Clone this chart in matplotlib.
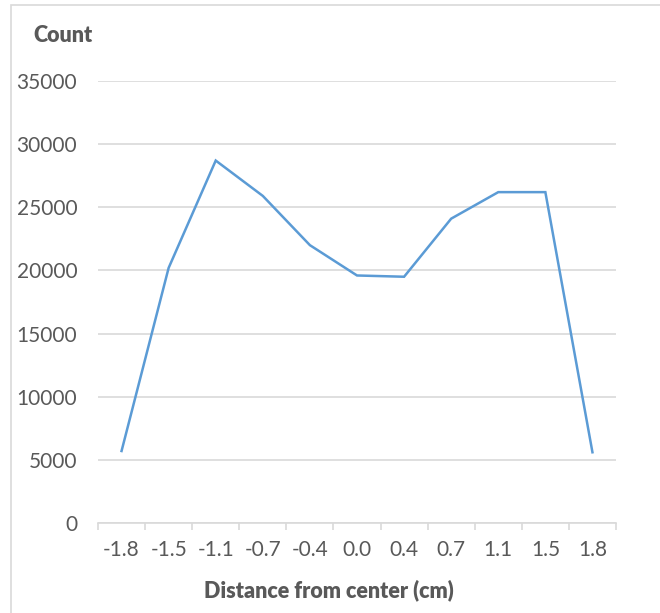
import matplotlib
matplotlib.use("Agg")
import matplotlib.pyplot as plt
from matplotlib.patches import Rectangle

# data
categories = ["-1.8", "-1.5", "-1.1", "-0.7", "-0.4", "0.0", "0.4", "0.7", "1.1", "1.5", "1.8"]
counts = [5700, 20200, 28700, 25900, 22000, 19600, 19500, 24100, 26200, 26200, 5600]
y_ticks = [0, 5000, 10000, 15000, 20000, 25000, 30000, 35000]

W, H = 660, 613
plt.rcParams["font.family"] = ["Lato", "DejaVu Sans"]
text_color = "#595959"
grid_color = "#d9d9d9"

fig = plt.figure(figsize=(W / 100, H / 100), dpi=100)
ax = fig.add_axes([98 / W, 1 - 523 / H, (616 - 98) / W, (523 - 81) / H])

x = list(range(len(categories)))
ax.plot(x, counts, color="#5b9bd5", linewidth=1.8, solid_joinstyle="miter")

ax.set_xlim(-0.5, len(categories) - 0.5)
ax.set_ylim(0, 35000)
ax.set_yticks(y_ticks)
ax.set_yticklabels([str(v) for v in y_ticks])
ax.yaxis.grid(True, color=grid_color, linewidth=1.2)
ax.set_axisbelow(True)
ax.tick_params(axis="y", length=0, pad=15, labelsize=15, labelcolor=text_color)

# category boundaries get tick marks, labels sit on the centres
ax.set_xticks([i - 0.5 for i in range(len(categories) + 1)])
ax.set_xticklabels([])
ax.tick_params(axis="x", which="major", length=5, width=1.2, color=grid_color)
ax.set_xticks(x, minor=True)
ax.set_xticklabels(categories, minor=True)
ax.tick_params(axis="x", which="minor", length=0, pad=12, labelsize=15, labelcolor=text_color)

for side in ["top", "right", "left"]:
    ax.spines[side].set_visible(False)
ax.spines["bottom"].set_color(grid_color)
ax.spines["bottom"].set_linewidth(1.2)

fig.text(33 / W, 1 - 36 / H, "Count", fontsize=15.5, fontweight="heavy",
         color=text_color, ha="left", va="center")
fig.text(329 / W, 1 - 590 / H, "Distance from center (cm)", fontsize=15.5,
         fontweight="heavy", color=text_color, ha="center", va="center")

# chart area border
fig.patches.append(Rectangle((11 / W, -0.1), 1.1, 1 - 5 / H + 0.1, transform=fig.transFigure,
                             fill=False, edgecolor=grid_color, linewidth=1.2))

fig.savefig("out.png", dpi=100)
